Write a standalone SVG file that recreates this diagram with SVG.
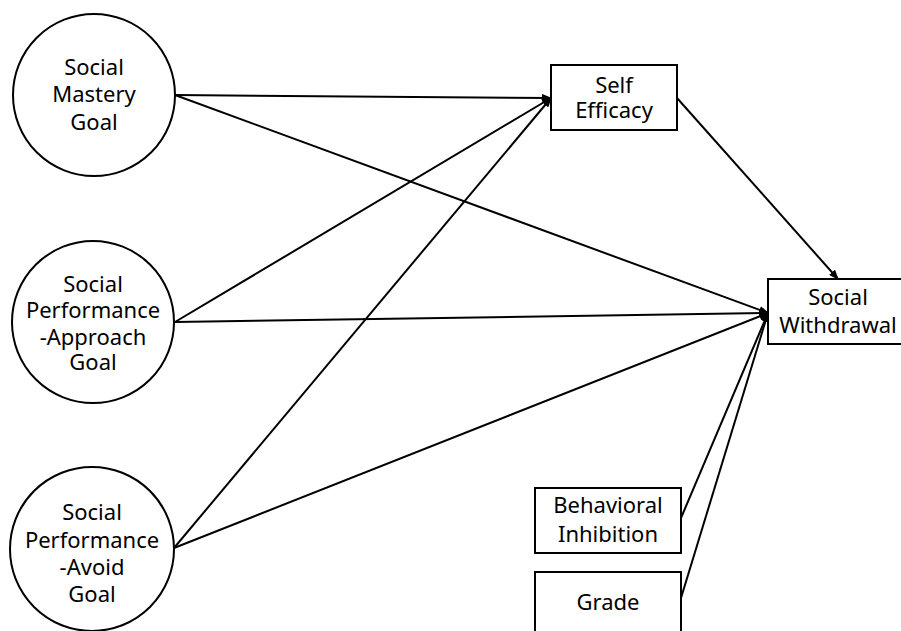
<svg xmlns="http://www.w3.org/2000/svg" width="901" height="631" viewBox="0 0 901 631">
<style>
.n{fill:#fff;stroke:#000;stroke-width:2}
.t{font-family:"Noto Sans","Open Sans",sans-serif;font-size:22px;text-anchor:middle;fill:#000}
.c line{stroke:#000;stroke-width:2;marker-end:url(#ah)}
</style>
<defs>
<marker id="ah" markerWidth="10" markerHeight="8" refX="9" refY="4" orient="auto" markerUnits="userSpaceOnUse">
<path d="M0,0 L10,4 L0,8 Z" fill="#000"/>
</marker>
</defs>
<rect width="901" height="631" fill="#fff"/>
<g id="mastery"><circle class="n" cx="94" cy="95" r="81"/>
<text class="t" x="94" y="75">Social</text><text class="t" x="94" y="102">Mastery</text><text class="t" x="94" y="130">Goal</text></g>
<g id="approach"><circle class="n" cx="93" cy="322" r="81"/>
<text class="t" x="93" y="292">Social</text><text class="t" x="93" y="318">Performance</text><text class="t" x="93" y="345">-Approach</text><text class="t" x="93" y="370">Goal</text></g>
<g id="avoid"><circle class="n" cx="92" cy="549" r="82"/>
<text class="t" x="92" y="520">Social</text><text class="t" x="92" y="548">Performance</text><text class="t" x="92" y="575">-Avoid</text><text class="t" x="92" y="602">Goal</text></g>
<g id="selfefficacy"><rect class="n" x="551" y="65" width="126" height="65"/>
<text class="t" x="614" y="93">Self</text><text class="t" x="614" y="118">Efficacy</text></g>
<g id="withdrawal"><rect class="n" x="768" y="279" width="140" height="65"/>
<text class="t" x="838" y="305">Social</text><text class="t" x="838" y="333">Withdrawal</text></g>
<g id="inhibition"><rect class="n" x="535" y="488" width="146" height="65"/>
<text class="t" x="608" y="513">Behavioral</text><text class="t" x="608" y="542">Inhibition</text></g>
<g id="grade"><rect class="n" x="535" y="572" width="146" height="70"/>
<text class="t" x="608" y="610">Grade</text></g>
<g class="c" id="connectors">
<line x1="175" y1="95" x2="551" y2="98"/>
<line x1="175" y1="95" x2="768" y2="313"/>
<line x1="175" y1="322" x2="551" y2="98"/>
<line x1="175" y1="322" x2="768" y2="313"/>
<line x1="174" y1="548" x2="551" y2="98"/>
<line x1="174" y1="548" x2="768" y2="313"/>
<line x1="677" y1="98" x2="838" y2="279"/>
<line x1="681" y1="518" x2="768" y2="313"/>
<line x1="681" y1="598" x2="768" y2="313"/>
</g>
</svg>
